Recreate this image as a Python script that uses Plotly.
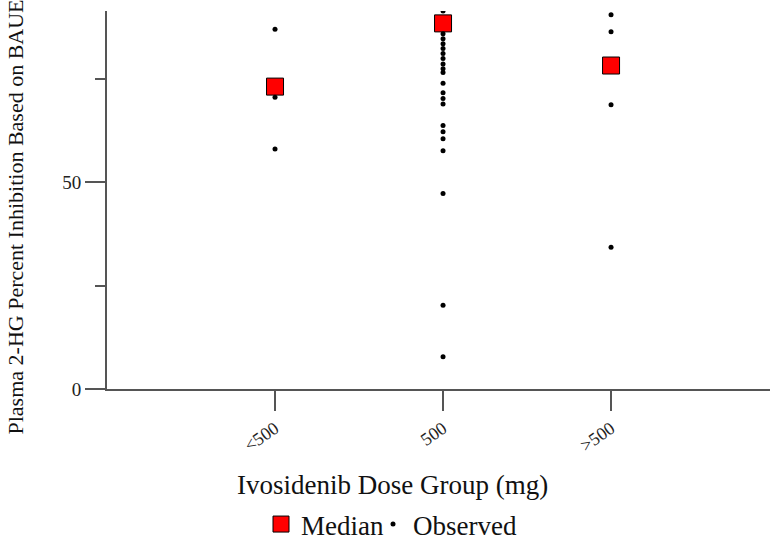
import plotly.graph_objects as go

# Dose groups and their per-subject plasma 2-HG percent inhibition values
dose_groups = ["<500", "500", ">500"]

obs_lt500 = [87.1, 70.6, 58.1]
obs_500 = [91.5, 86.0, 84.8, 83.6, 82.4, 81.2, 80.0, 78.7, 77.5, 76.6, 74.0,
           71.7, 70.3, 69.0, 63.8, 62.3, 60.6, 57.7, 47.3, 20.3, 7.8]
obs_gt500 = [90.6, 86.5, 68.8, 34.3]

median_values = [73.2, 88.5, 78.3]

obs_x = ([dose_groups[0]] * len(obs_lt500)
         + [dose_groups[1]] * len(obs_500)
         + [dose_groups[2]] * len(obs_gt500))
obs_y = obs_lt500 + obs_500 + obs_gt500

SERIF = "Liberation Serif"

# plot area in pixels: x 107..770, y 11..389
PL, PW, PB, PH = 107, 663, 389, 378


def px_x(p):
    return (p - PL) / PW


def px_y(p):
    return (PB - p) / PH


fig = go.Figure()

fig.add_trace(go.Scatter(
    x=dose_groups, y=median_values, mode="markers", name="Median",
    legend="legend",
    marker=dict(symbol="square", size=17, color="#ff0000",
                line=dict(color="#000000", width=1)),
))

fig.add_trace(go.Scatter(
    x=obs_x, y=obs_y, mode="markers", name="Observed",
    legend="legend2",
    marker=dict(symbol="circle", size=5, color="#000000"),
))

legend_common = dict(
    orientation="h", xanchor="left", y=px_y(500), yanchor="top",
    font=dict(family=SERIF, size=27, color="#111111"),
    bgcolor="rgba(0,0,0,0)",
)

fig.update_layout(
    width=770, height=540,
    margin=dict(l=PL, r=0, t=11, b=540 - PB, autoexpand=False),
    paper_bgcolor="white", plot_bgcolor="white",
    font=dict(family=SERIF, color="#111111"),
    showlegend=True,
    legend=dict(x=px_x(261), **legend_common),
    legend2=dict(x=px_x(373), **legend_common),
    xaxis=dict(
        type="category", range=[-1, 2.946], automargin=False,
        showline=True, linecolor="#555555", linewidth=2,
        ticks="outside", ticklen=20, tickwidth=2, tickcolor="#555555",
        tickangle=-35, tickfont=dict(family=SERIF, size=18, color="#222222"),
        showgrid=False, zeroline=False,
    ),
    yaxis=dict(
        range=[0, 91.5], automargin=False,
        showline=True, linecolor="#555555", linewidth=2,
        tickvals=[0, 50], ticks="outside", ticklen=20, tickwidth=1.5,
        tickcolor="#555555",
        tickfont=dict(family=SERIF, size=19, color="#222222"),
        minor=dict(tickvals=[25, 75], ticks="outside", ticklen=10,
                   tickwidth=1.5, tickcolor="#555555"),
        showgrid=False, zeroline=False,
    ),
    annotations=[
        dict(text="Ivosidenib Dose Group (mg)", xref="paper", yref="paper",
             x=px_x(392), y=px_y(485),
             xanchor="center", yanchor="middle", showarrow=False,
             font=dict(family=SERIF, size=27, color="#111111")),
        dict(text="Plasma 2-HG Percent Inhibition Based on BAUE",
             xref="paper", yref="paper",
             x=px_x(15), y=px_y(437),
             xanchor="center", yanchor="bottom", textangle=-90,
             showarrow=False,
             font=dict(family=SERIF, size=22, color="#111111")),
    ],
)

fig.write_html("out.html")
